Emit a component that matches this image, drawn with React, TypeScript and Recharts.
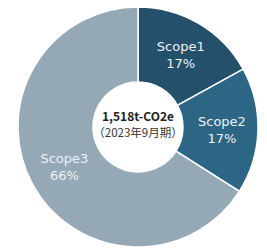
import React from 'react';
import { PieChart, Pie, Cell, Label } from 'recharts';

const categories = ['Scope1', 'Scope2', 'Scope3'];
const shares = [17, 17, 66];
const percentLabels = ['17%', '17%', '66%'];
const colors = ['#24506b', '#2d6584', '#95a8b5'];
const centerTitle = '1,518t-CO2e';
const centerSub = '（2023年9月期）';

const data = categories.map((name, i) => ({ name, value: shares[i], pct: percentLabels[i] }));

const RAD = Math.PI / 180;

const renderLabel = (props: any) => {
  const { cx, cy, midAngle, index } = props;
  const r = 84;
  const x = cx + r * Math.cos(-midAngle * RAD);
  const y = cy + r * Math.sin(-midAngle * RAD);
  return (
    <text
      x={x}
      y={y}
      textAnchor="middle"
      fill="#eef1f4"
      fontFamily="'DejaVu Sans', sans-serif"
      fontSize={13}
    >
      <tspan x={x} y={y - 4}>{data[index].name}</tspan>
      <tspan x={x} y={y + 13}>{data[index].pct}</tspan>
    </text>
  );
};

const renderCenter = (props: any) => {
  const vb = props.viewBox || {};
  const cx = vb.cx ?? 138;
  const cy = vb.cy ?? 127;
  return (
    <g>
      <text
        x={cx}
        y={cy - 6}
        textAnchor="middle"
        fill="#222222"
        fontFamily="'Noto Sans CJK JP', 'Noto Sans', sans-serif"
        fontWeight={700}
        fontSize={12}
      >
        {centerTitle}
      </text>
      <text
        x={cx}
        y={cy + 10}
        textAnchor="middle"
        fill="#333333"
        fontFamily="'Noto Sans CJK JP', 'Noto Sans', sans-serif"
        fontSize={11.5}
      >
        {centerSub}
      </text>
    </g>
  );
};

export default function App() {
  return (
    <div style={{ position: 'absolute', left: 0, top: 0, width: 267, height: 249, background: '#ffffff' }}>
      <PieChart width={267} height={249} margin={{ top: 0, right: 0, bottom: 0, left: 0 }}>
        <Pie
          data={data}
          dataKey="value"
          nameKey="name"
          cx={138}
          cy={127}
          innerRadius={45}
          outerRadius={120}
          startAngle={90}
          endAngle={-270}
          stroke="#ffffff"
          strokeWidth={1.5}
          label={renderLabel}
          labelLine={false}
          isAnimationActive={false}
        >
          {data.map((d, i) => (
            <Cell key={d.name} fill={colors[i]} />
          ))}
          <Label position="center" content={renderCenter} />
        </Pie>
      </PieChart>
    </div>
  );
}
